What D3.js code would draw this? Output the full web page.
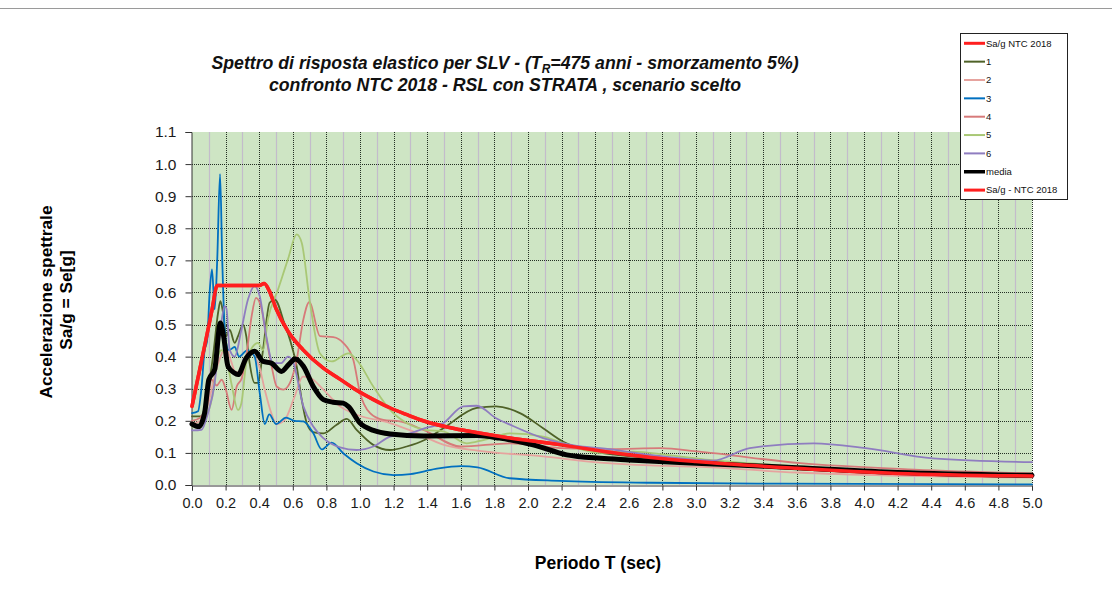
<!DOCTYPE html>
<html>
<head>
<meta charset="utf-8">
<script src="https://cdn.jsdelivr.net/npm/d3@7"></script>
<style>
  body { margin: 0; background: #fff; }
  svg { display: block; font-family: Arial, "Liberation Sans", sans-serif; }
</style>
</head>
<body>
<svg></svg>
<script>
'use strict';

// values: [periodo T (s), Sa/g]
var ntc = [[0, 0.245], [0.04, 0.345], [0.08, 0.445], [0.12, 0.548], [0.15, 0.622], [0.2, 0.622], [0.3, 0.622],
    [0.4, 0.622], [0.43, 0.628], [0.46, 0.605],
    [0.5, 0.55], [0.57, 0.48], [0.66, 0.422], [0.78, 0.365], [0.88, 0.33], [0.98, 0.295], [1.08, 0.266],
    [1.18, 0.24], [1.28, 0.219], [1.39, 0.198], [1.6, 0.172], [1.9, 0.146], [2.2, 0.125], [2.5, 0.101],
    [2.73, 0.086], [3.0, 0.073], [3.6, 0.052], [4.2, 0.036], [5.0, 0.028]];

var s1 = [[0, 0.214], [0.056, 0.214], [0.095, 0.297], [0.125, 0.4], [0.155, 0.536], [0.169, 0.573], [0.185, 0.536],
    [0.204, 0.464], [0.224, 0.484], [0.254, 0.443], [0.274, 0.464], [0.304, 0.5], [0.323, 0.464], [0.343, 0.38],
    [0.373, 0.318], [0.393, 0.318], [0.423, 0.422], [0.462, 0.568], [0.492, 0.578], [0.552, 0.5], [0.583, 0.453],
    [0.623, 0.37], [0.653, 0.266], [0.683, 0.193], [0.72, 0.165], [0.782, 0.161], [0.861, 0.188], [0.921, 0.206],
    [0.98, 0.172], [1.079, 0.125], [1.179, 0.109], [1.278, 0.12], [1.387, 0.141], [1.496, 0.177], [1.695, 0.24],
    [1.81, 0.245], [1.952, 0.224], [2.09, 0.177], [2.21, 0.135], [2.39, 0.104], [2.73, 0.085], [3.0, 0.072],
    [3.6, 0.05], [4.2, 0.035], [5.0, 0.027]];

var s2 = [[0, 0.19], [0.05, 0.2], [0.1, 0.26], [0.13, 0.33], [0.17, 0.4], [0.2, 0.43], [0.23, 0.39], [0.26, 0.35],
    [0.3, 0.36], [0.35, 0.41], [0.4, 0.37], [0.433, 0.297], [0.472, 0.224], [0.502, 0.19], [0.552, 0.203],
    [0.611, 0.276], [0.66, 0.338], [0.7, 0.335], [0.782, 0.297], [0.881, 0.245], [0.98, 0.219], [1.179, 0.193],
    [1.3, 0.17], [1.5, 0.125], [1.7, 0.107], [2.09, 0.089], [2.43, 0.07], [2.73, 0.061], [3.0, 0.057],
    [3.6, 0.039], [5.0, 0.023]];

var s3 = [[0, 0.224], [0.036, 0.23], [0.056, 0.3], [0.075, 0.42], [0.09, 0.45], [0.105, 0.6], [0.119, 0.672],
    [0.135, 0.547], [0.15, 0.7], [0.167, 0.969], [0.18, 0.7], [0.198, 0.46], [0.22, 0.42], [0.254, 0.43],
    [0.28, 0.4], [0.33, 0.42], [0.373, 0.4], [0.405, 0.28], [0.433, 0.19], [0.46, 0.22], [0.5, 0.19],
    [0.56, 0.21], [0.61, 0.2], [0.663, 0.198], [0.722, 0.161], [0.772, 0.111], [0.831, 0.132], [0.9, 0.099],
    [0.98, 0.068], [1.08, 0.042], [1.2, 0.031], [1.3, 0.034], [1.45, 0.05], [1.6, 0.059], [1.7, 0.055],
    [1.89, 0.021], [2.19, 0.013], [2.73, 0.007], [3.5, 0.004], [5.0, 0.002]];

var s4 = [[0, 0.2], [0.05, 0.21], [0.09, 0.26], [0.117, 0.328], [0.147, 0.31], [0.177, 0.328], [0.2, 0.3],
    [0.236, 0.234], [0.266, 0.307], [0.296, 0.333], [0.325, 0.41], [0.355, 0.526], [0.381, 0.583], [0.415, 0.547],
    [0.444, 0.453], [0.474, 0.37], [0.504, 0.307], [0.544, 0.297], [0.583, 0.318], [0.623, 0.39], [0.663, 0.516],
    [0.698, 0.57], [0.762, 0.464], [0.841, 0.461], [0.9, 0.443], [0.96, 0.39], [1.0, 0.287], [1.06, 0.224],
    [1.139, 0.203], [1.238, 0.198], [1.377, 0.172], [1.6, 0.12], [1.893, 0.13], [2.19, 0.115], [2.5, 0.112],
    [2.786, 0.115], [3.02, 0.104], [3.62, 0.068], [4.3, 0.048], [5.0, 0.036]];

var s5 = [[0, 0.182], [0.056, 0.193], [0.095, 0.224], [0.125, 0.286], [0.155, 0.4], [0.175, 0.42], [0.204, 0.396],
    [0.234, 0.318], [0.274, 0.234], [0.294, 0.255], [0.323, 0.38], [0.363, 0.432], [0.393, 0.443], [0.423, 0.42],
    [0.452, 0.516], [0.512, 0.609], [0.571, 0.703], [0.623, 0.781], [0.653, 0.755], [0.702, 0.568], [0.762, 0.41],
    [0.831, 0.385], [0.931, 0.41], [0.98, 0.39], [1.079, 0.307], [1.179, 0.234], [1.278, 0.193], [1.387, 0.172],
    [1.496, 0.167], [1.635, 0.13], [1.734, 0.14], [1.893, 0.161], [2.09, 0.151], [2.29, 0.115], [2.43, 0.1],
    [2.627, 0.104], [2.825, 0.094], [3.08, 0.078], [3.6, 0.058], [4.2, 0.04], [5.0, 0.025]];

var s6 = [[0, 0.17], [0.056, 0.172], [0.095, 0.224], [0.135, 0.318], [0.165, 0.464], [0.194, 0.557], [0.205, 0.55],
    [0.224, 0.422], [0.254, 0.4], [0.294, 0.484], [0.333, 0.578], [0.373, 0.62], [0.403, 0.589], [0.442, 0.464],
    [0.482, 0.38], [0.532, 0.38], [0.571, 0.4], [0.6, 0.385], [0.663, 0.245], [0.722, 0.182], [0.782, 0.146],
    [0.881, 0.117], [0.98, 0.109], [1.079, 0.12], [1.179, 0.151], [1.298, 0.161], [1.387, 0.177], [1.496, 0.193],
    [1.615, 0.245], [1.695, 0.247], [1.81, 0.208], [1.893, 0.188], [2.09, 0.146], [2.29, 0.122], [2.43, 0.115],
    [2.726, 0.094], [3.1, 0.076], [3.32, 0.115], [3.7, 0.13], [4.01, 0.115], [4.41, 0.083], [5.0, 0.071]];

var media = [[0, 0.19], [0.04, 0.182], [0.075, 0.224], [0.1, 0.328], [0.135, 0.36], [0.169, 0.505], [0.188, 0.464],
    [0.214, 0.37], [0.25, 0.35], [0.274, 0.344], [0.323, 0.396], [0.373, 0.417], [0.423, 0.385], [0.472, 0.38],
    [0.532, 0.354], [0.575, 0.375], [0.615, 0.393], [0.663, 0.37], [0.722, 0.307], [0.782, 0.266], [0.84, 0.258],
    [0.9, 0.255], [0.93, 0.245], [1.0, 0.193], [1.08, 0.17], [1.18, 0.159], [1.38, 0.153], [1.7, 0.154],
    [1.83, 0.146], [2.03, 0.125], [2.23, 0.094], [2.43, 0.083], [2.6, 0.078], [3.0, 0.068], [3.6, 0.054],
    [4.2, 0.039], [5.0, 0.03]];

var legendLabels = ["Sa/g NTC 2018", "1", "2", "3", "4", "5", "6", "media", "Sa/g  -  NTC 2018"];
var xTickValues = [0, 0.2, 0.4, 0.6, 0.8, 1.0, 1.2, 1.4, 1.6, 1.8, 2.0, 2.2, 2.4, 2.6, 2.8, 3.0, 3.2, 3.4, 3.6, 3.8,
    4.0, 4.2, 4.4, 4.6, 4.8, 5.0];
var xMinorValues = [0.1, 0.3, 0.5, 0.7, 0.9, 1.1, 1.3, 1.5, 1.7, 1.9, 2.1, 2.3, 2.5, 2.7, 2.9, 3.1, 3.3, 3.5, 3.7,
    3.9, 4.1, 4.3, 4.5, 4.7, 4.9];
var yTickValues = [0, 0.1, 0.2, 0.3, 0.4, 0.5, 0.6, 0.7, 0.8, 0.9, 1.0, 1.1];

// drawing order = legend order, last red on top
var series = [
    { data: ntc, color: "#ff1f1f", width: 3.5, lw: 3 },
    { data: s1, color: "#4f6228", width: 1.8, lw: 2 },
    { data: s2, color: "#e6a39e", width: 1.8, lw: 2 },
    { data: s3, color: "#0070c0", width: 1.8, lw: 2 },
    { data: s4, color: "#d77a7a", width: 1.8, lw: 2 },
    { data: s5, color: "#a9c875", width: 1.8, lw: 2 },
    { data: s6, color: "#8f7dc0", width: 1.8, lw: 2 },
    { data: media, color: "#000000", width: 5, lw: 3.5 },
    { data: ntc, color: "#ff1f1f", width: 3.5, lw: 3 }
];

var svgWidth = 1112,
    svgHeight = 597;

var svg = d3.select("svg")
    .attr("width", svgWidth)
    .attr("height", svgHeight);

// chart frame line at the top
svg.append("line")
    .attr("x1", 0).attr("x2", svgWidth)
    .attr("y1", 8.5).attr("y2", 8.5)
    .attr("stroke", "#9a9a9a");

var x = d3.scaleLinear().domain([0, 5]).range([192, 1032]);
var y = d3.scaleLinear().domain([0, 1.1]).range([485, 132]);

// plot area
svg.append("rect")
    .attr("x", x(0)).attr("y", y(1.1))
    .attr("width", x(5) - x(0)).attr("height", y(0) - y(1.1))
    .attr("fill", "#cee5c4");

var grid = svg.append("g").attr("class", "grid");

grid.selectAll(".vminor")
    .data(xMinorValues)
    .enter().append("line")
    .attr("x1", function (d) { return Math.round(x(d)) + 0.5 })
    .attr("x2", function (d) { return Math.round(x(d)) + 0.5 })
    .attr("y1", y(1.1)).attr("y2", y(0))
    .attr("stroke", "#c3bccb")
    .attr("stroke-width", 1.2);

grid.selectAll(".vmajor")
    .data(xTickValues.slice(1))
    .enter().append("line")
    .attr("x1", function (d) { return Math.round(x(d)) + 0.5 })
    .attr("x2", function (d) { return Math.round(x(d)) + 0.5 })
    .attr("y1", y(1.1)).attr("y2", y(0))
    .attr("stroke", "#243024")
    .attr("stroke-dasharray", "1,1");

grid.selectAll(".hmajor")
    .data(yTickValues.slice(1, 11))
    .enter().append("line")
    .attr("x1", x(0)).attr("x2", x(5))
    .attr("y1", function (d) { return Math.round(y(d)) + 0.5 })
    .attr("y2", function (d) { return Math.round(y(d)) + 0.5 })
    .attr("stroke", "#243024")
    .attr("stroke-dasharray", "1,1");

// axes
var xAxis = svg.append("g")
    .attr("class", "axis x")
    .attr("transform", "translate(0," + (y(0) + 0.5) + ")")
    .call(d3.axisBottom(x).tickValues(xTickValues).tickFormat(d3.format(".1f")).tickSize(5).tickPadding(7));

var yAxis = svg.append("g")
    .attr("class", "axis y")
    .attr("transform", "translate(" + (x(0) - 0.5) + ",0)")
    .call(d3.axisLeft(y).tickValues(yTickValues).tickFormat(d3.format(".1f")).tickSize(6).tickPadding(9));

svg.selectAll(".axis path, .axis line").attr("stroke", "#333");
xAxis.selectAll("text").attr("font-size", 14.5).attr("fill", "#1a1a1a");
yAxis.selectAll("text").attr("font-size", 15.5).attr("fill", "#1a1a1a");

// series
var line = d3.line()
    .x(function (d) { return x(d[0]) })
    .y(function (d) { return y(d[1]) })
    .curve(d3.curveMonotoneX);

svg.append("g")
    .selectAll("path")
    .data(series)
    .enter().append("path")
    .attr("fill", "none")
    .attr("stroke", function (d) { return d.color })
    .attr("stroke-width", function (d) { return d.width })
    .attr("stroke-linejoin", "round")
    .attr("stroke-linecap", "round")
    .attr("d", function (d) { return line(d.data) });

// titles
var title = svg.append("g")
    .attr("font-weight", "bold")
    .attr("font-style", "italic")
    .attr("font-size", 17.7)
    .attr("text-anchor", "middle")
    .attr("fill", "#111");

var t1 = title.append("text").attr("x", 505).attr("y", 69);
t1.append("tspan").text("Spettro di risposta  elastico per SLV - (T");
t1.append("tspan").attr("font-size", 12).attr("dy", 4).text("R");
t1.append("tspan").attr("dy", -4).text("=475 anni - smorzamento 5%)");

title.append("text").attr("x", 505).attr("y", 91)
    .text("confronto  NTC 2018 - RSL con STRATA , scenario scelto");

svg.append("text")
    .attr("transform", "translate(52,302) rotate(-90)")
    .attr("text-anchor", "middle")
    .attr("font-weight", "bold")
    .attr("font-size", 17.3)
    .text("Accelerazione spettrale");

svg.append("text")
    .attr("transform", "translate(72,300) rotate(-90)")
    .attr("text-anchor", "middle")
    .attr("font-weight", "bold")
    .attr("font-size", 17.3)
    .text("Sa/g = Se[g]");

svg.append("text")
    .attr("x", 598).attr("y", 569)
    .attr("text-anchor", "middle")
    .attr("font-weight", "bold")
    .attr("font-size", 17.5)
    .text("Periodo T (sec)");

// legend
var legend = svg.append("g").attr("class", "legend");

legend.append("rect")
    .attr("x", 960.5).attr("y", 33.5)
    .attr("width", 107).attr("height", 166)
    .attr("fill", "#fff")
    .attr("stroke", "#222");

var item = legend.selectAll(".item")
    .data(series)
    .enter().append("g")
    .attr("transform", function (d, i) { return "translate(0," + (43.3 + i * 18.35) + ")" });

item.append("line")
    .attr("x1", 964).attr("x2", 985)
    .attr("stroke", function (d) { return d.color })
    .attr("stroke-width", function (d) { return d.lw });

item.append("text")
    .attr("x", 986)
    .attr("dy", "0.35em")
    .attr("font-size", 9.5)
    .attr("fill", "#111")
    .text(function (d, i) { return legendLabels[i] });
</script>
</body>
</html>
